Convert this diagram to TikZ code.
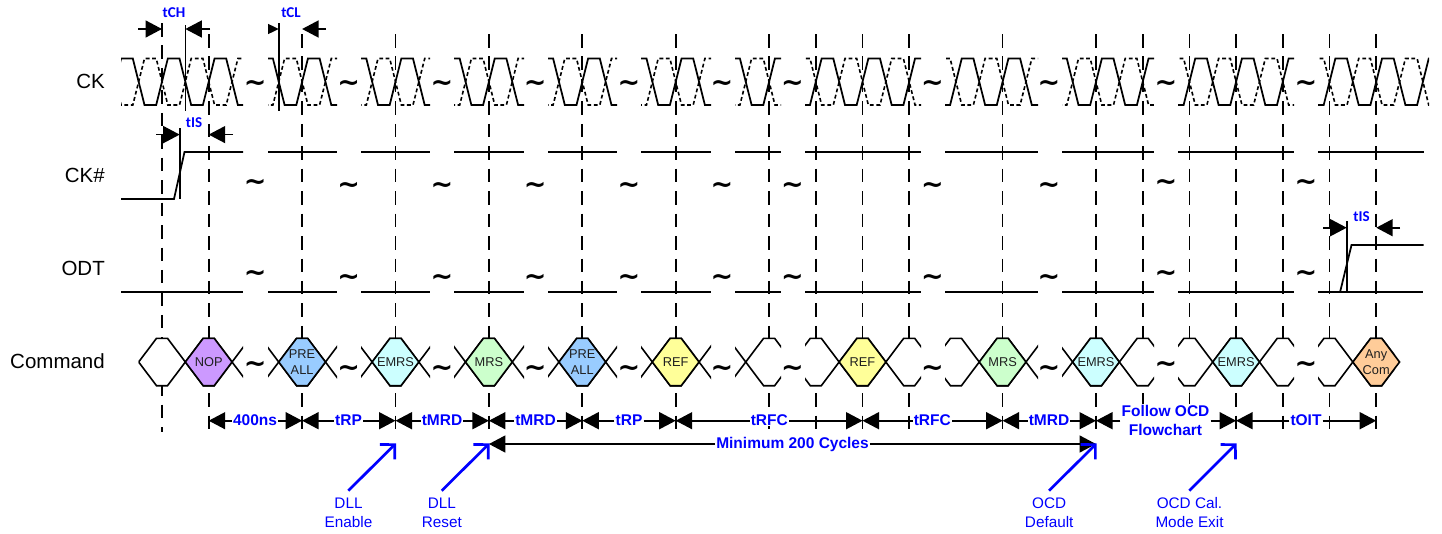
\documentclass[tikz,border=0pt]{standalone}
\usepackage{fontspec}
\setmainfont{Liberation Sans}
\newfontfamily\carlito{Carlito}
\newfontfamily\tildefont{DejaVu Sans}
\usetikzlibrary{arrows.meta}
\definecolor{dimblue}{RGB}{0,0,255}
\definecolor{cNOP}{HTML}{CC99FF}
\definecolor{cPRE}{HTML}{99CCFF}
\definecolor{cEMRS}{HTML}{CCFFFF}
\definecolor{cMRS}{HTML}{CCFFCC}
\definecolor{cREF}{HTML}{FFFF99}
\definecolor{cANY}{HTML}{FFCC99}
\tikzset{
  sigline/.style={line width=1.75pt,black,line join=miter},
  sigdash/.style={line width=1.6pt,black,dash pattern=on 3.8pt off 2.6pt},
  gridline/.style={line width=1.7pt,black,dash pattern=on 13.5pt off 8.95pt},
  hexline/.style={line width=1.6pt,black,line join=miter},
  rowlabel/.style={font=\fontsize{20.5}{24}\selectfont,anchor=east,inner sep=0pt},
  cmdtext/.style={font=\fontsize{12.8}{16}\selectfont,align=center,inner sep=0pt,text=black!88},
  dimarrow/.style={line width=1.6pt,black,-{Triangle[length=16.5pt,width=17pt]}},
  dimtext/.style={font=\bfseries\fontsize{15.5}{19}\selectfont,text=dimblue,fill=white,inner xsep=1pt,inner ysep=0.5pt,align=center},
  smalltime/.style={font=\carlito\bfseries\fontsize{15}{18}\selectfont,text=dimblue,inner sep=0pt},
  bluearrow/.style={line width=2.7pt,dimblue,-{Straight Barb[length=10.4pt,width=21pt,line width=2.7pt]}},
  bluetext/.style={font=\fontsize{15.3}{19}\selectfont,text=dimblue,align=center,inner sep=0pt},
  tildemark/.style={font=\tildefont\bfseries\fontsize{27}{27}\selectfont,inner sep=0pt,text=black,anchor=base,yshift=-8.6pt},
}
\newcommand{\ckseg}[2]{%
  \pgfmathtruncatemacro{\ka}{floor((#1-162)/46.7)}%
  \pgfmathtruncatemacro{\kb}{ceil((#2-162)/46.7)}%
  \begin{scope}
    \clip (#1,50) rectangle (#2,115);
    \draw[sigdash] (162+46.7*\ka-5.84,58.5) foreach \k in {\ka,...,\kb} {
       -- (162+46.7*\k+5.84,105) -- (162+46.7*\k+17.5,105) -- (162+46.7*\k+29.2,58.5) -- (162+46.7*\k+40.9,58.5)};
    \draw[sigline] (162+46.7*\ka-5.84,105) foreach \k in {\ka,...,\kb} {
       -- (162+46.7*\k+5.84,58.5) -- (162+46.7*\k+17.5,58.5) -- (162+46.7*\k+29.2,105) -- (162+46.7*\k+40.9,105)};
  \end{scope}}
\newcommand{\hexpath}[1]{(#1-23.35,362) -- (#1-5.5,338.3) -- (#1+5.5,338.3) -- (#1+23.35,362) -- (#1+5.5,385.7) -- (#1-5.5,385.7) -- cycle}
\newcommand{\cmdseg}[2]{%
  \pgfmathtruncatemacro{\ka}{floor((#1-162)/46.7)}%
  \pgfmathtruncatemacro{\kb}{ceil((#2-162)/46.7)}%
  \begin{scope}
    \clip (#1,330) rectangle (#2,395);
    \foreach \k in {\ka,...,\kb} {
      \pgfmathsetmacro{\cx}{162+46.7*\k}
      \filldraw[hexline,fill=white] \hexpath{\cx};
    }
  \end{scope}}
\newcommand{\cmdcell}[4]{%
  \pgfmathsetmacro{\cx}{162+46.7*#1}
  \filldraw[hexline,fill=#2] \hexpath{\cx};
  \node[cmdtext] (#3) at (\cx,362) {#4};}
\begin{document}
\begin{tikzpicture}[x=1pt,y=-1pt]
\useasboundingbox (0,0) rectangle (1442,533);
% vertical reference lines
\coordinate (Gtop0) at (162,23);
\coordinate (Gbot0) at (162,432);
\draw[gridline] (Gtop0) -- (Gbot0);
\foreach \k in {1,3,5,7,9,11,13,14,15,16,18,20,21,22,23,24,25,26} {
  \coordinate (Gtop\k) at (162+46.7*\k,34);
  \coordinate (Gbot\k) at (162+46.7*\k,430);
  \draw[gridline] (Gtop\k) -- (Gbot\k);
}
% row labels
\node[rowlabel] (lCK) at (105,81) {CK};
\node[rowlabel] (lCKN) at (105,175) {CK\#};
\node[rowlabel] (lODT) at (105,268) {ODT};
\node[rowlabel] (lCMD) at (105,361) {Command};
% clock
\foreach \a/\b in {121/243,268/337,361/430,454/524,548/617,641/711,735/781,805/921,945/1038,1062/1154,1178/1294,1318/1429} {
  \ckseg{\a}{\b}
}
% CK# row
\coordinate (nA) at (121,199);
\coordinate (nB) at (174,199);
\coordinate (nC) at (184.5,152);
\coordinate (nD) at (243,152);
\draw[sigline] (nA) -- (nB) -- (nC) -- (nD);
\foreach \a/\b in {268/337,361/430,454/524,548/617,641/711,735/781,805/921,945/1038,1062/1154,1178/1294,1318/1423.5} {
  \draw[sigline] (\a,152) -- (\b,152);
}
% ODT row
\foreach \a/\b in {121/243,268/337,361/430,454/524,548/617,641/711,735/781,805/921,945/1038,1062/1154,1178/1294,1318/1423} {
  \draw[sigline] (\a,292.3) -- (\b,292.3);
}
\coordinate (oA) at (1340,292.3);
\coordinate (oB) at (1351.5,245);
\coordinate (oC) at (1423.5,245);
\draw[sigline] (oA) -- (oB) -- (oC);
% command row
\foreach \a/\b in {138.6/243,268/337,361/430,454/524,548/617,641/711,735/781,805/921,945/1038,1062/1154,1178/1294,1318/1395} {
  \cmdseg{\a}{\b}
}
\cmdcell{1}{cNOP}{cmdNOP}{NOP}
\cmdcell{3}{cPRE}{cmdPREa}{PRE\\[0.5pt]ALL}
\cmdcell{5}{cEMRS}{cmdEMRSa}{EMRS}
\cmdcell{7}{cMRS}{cmdMRSa}{MRS}
\cmdcell{9}{cPRE}{cmdPREb}{PRE\\[0.5pt]ALL}
\cmdcell{11}{cREF}{cmdREFa}{REF}
\cmdcell{15}{cREF}{cmdREFb}{REF}
\cmdcell{18}{cMRS}{cmdMRSb}{MRS}
\cmdcell{20}{cEMRS}{cmdEMRSb}{EMRS}
\cmdcell{23}{cEMRS}{cmdEMRSc}{EMRS}
\cmdcell{26}{cANY}{cmdANY}{Any\\[0.5pt]Com}
% tildes: x / y in CK, CK#, ODT, Command rows
\foreach \x/\ya/\yb/\yc/\yd [count=\i] in {
  255.3/83/182/272.5/364, 348.7/83/185/277/368, 442/83/185/277/368,
  535.3/83/185/277/368, 629/83/185/277/368, 722/83/185/277/368,
  792.3/83/185/277/368, 932.3/83/185/277/368, 1049/83/185/277/368,
  1166/83/182/273/364, 1306/83/182/273/364} {
  \node[tildemark] (tA\i) at (\x,\ya) {\textasciitilde};
  \node[tildemark] (tB\i) at (\x,\yb) {\textasciitilde};
  \node[tildemark] (tC\i) at (\x,\yc) {\textasciitilde};
  \node[tildemark] (tD\i) at (\x,\yd) {\textasciitilde};
}
% tCH
\node[smalltime] (tCH) at (174,12.3) {tCH};
\coordinate (chTop) at (185.35,25);
\coordinate (chBot) at (185.35,111);
\draw[line width=1.6pt] (chTop) -- (chBot);
\coordinate (chLt) at (138,29);
\coordinate (chLh) at (162,29);
\coordinate (chRt) at (210,29);
\coordinate (chRh) at (185.35,29);
\draw[dimarrow] (chLt) -- (chLh);
\draw[dimarrow] (chRt) -- (chRh);
% tCL
\node[smalltime] (tCL) at (291,12.3) {tCL};
\coordinate (clTop) at (278.75,23);
\coordinate (clBot) at (278.75,111);
\draw[line width=1.6pt] (clTop) -- (clBot);
\fill (268,23.8) -- (278.75,29) -- (268,34.2) -- cycle;
\coordinate (clRt) at (326,29);
\coordinate (clRh) at (302.1,29);
\draw[dimarrow] (clRt) -- (clRh);
% tIS, CK#
\node[smalltime] (tISa) at (194,122.7) {tIS};
\coordinate (isTop) at (179.7,128);
\coordinate (isBot) at (179.7,199);
\draw[line width=1.6pt] (isTop) -- (isBot);
\coordinate (isLt) at (156,134.6);
\coordinate (isLh) at (179.7,134.6);
\coordinate (isRt) at (233,134.6);
\coordinate (isRh) at (208.7,134.6);
\draw[dimarrow] (isLt) -- (isLh);
\draw[dimarrow] (isRt) -- (isRh);
% tIS, ODT
\node[smalltime] (tISb) at (1361.5,216.7) {tIS};
\coordinate (ioTop) at (1346.7,221);
\coordinate (ioBot) at (1346.7,292.3);
\draw[line width=1.6pt] (ioTop) -- (ioBot);
\coordinate (ioLt) at (1323,227.7);
\coordinate (ioLh) at (1346.7,227.7);
\coordinate (ioRt) at (1400,227.7);
\coordinate (ioRh) at (1376.2,227.7);
\draw[dimarrow] (ioLt) -- (ioLh);
\draw[dimarrow] (ioRt) -- (ioRh);
% interval arrows
\foreach \name/\ka/\kb/\lx/\txt in {
  dA/1/3/255/400ns, dB/3/5/348.5/tRP, dC/5/7/442/tMRD, dD/7/9/535.5/tMRD, dE/9/11/629/tRP,
  dF/11/15/769.3/tRFC, dG/15/18/932.3/tRFC, dH/18/20/1049/tMRD, dJ/23/26/1306/tOIT} {
  \coordinate (\name L) at (162+46.7*\ka,420.7);
  \coordinate (\name R) at (162+46.7*\kb,420.7);
  \node[dimtext] (\name) at (\lx,420.3) {\txt};
  \draw[dimarrow] (\name L -| \name.west) -- (\name L);
  \draw[dimarrow] (\name R -| \name.east) -- (\name R);
}
\coordinate (dIL) at (162+46.7*20,420.7);
\coordinate (dIR) at (162+46.7*23,420.7);
\node[dimtext] (dI) at (1165.5,420) {Follow OCD\\Flowchart};
\draw[dimarrow] (dIL -| dI.west) -- (dIL);
\draw[dimarrow] (dIR -| dI.east) -- (dIR);
% minimum 200 cycles
\coordinate (mL) at (162+46.7*7,444);
\coordinate (mR) at (162+46.7*20,444);
\node[dimtext] (mT) at (792.5,444) {Minimum 200 Cycles};
\draw[dimarrow] (mL -| mT.west) -- (mL);
\draw[dimarrow] (mR -| mT.east) -- (mR);
% blue event arrows
\foreach \name/\xs/\xt/\tone/\ttwo in {
  eA/348.3/396/DLL/Enable, eB/441.7/489.5/DLL/Reset,
  eC/1049/1096.7/OCD/Default, eD/1189.3/1236.7/OCD Cal./Mode Exit} {
  \coordinate (\name S) at (\xs,490.7);
  \coordinate (\name T) at (\xt,443.3);
  \draw[bluearrow] (\name S) -- (\name T);
  \node[bluetext] (\name) at (\xs+0.2,513) {\tone\\\ttwo};
}
\end{tikzpicture}
\end{document}
